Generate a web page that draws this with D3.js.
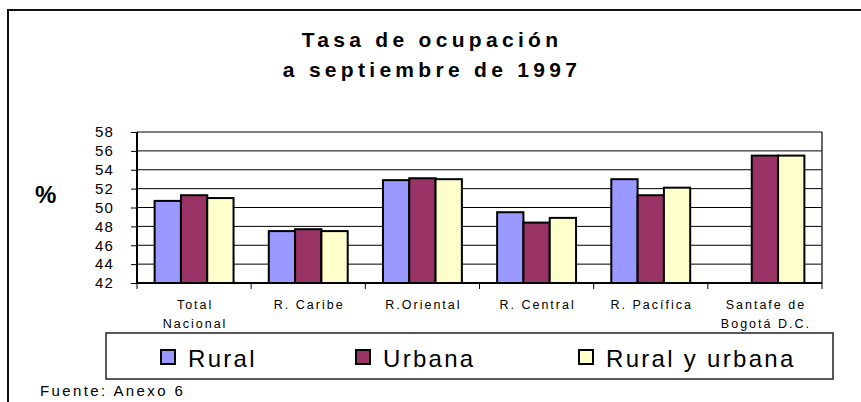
<!DOCTYPE html>
<html>
<head>
<meta charset="utf-8">
<script src="https://cdn.jsdelivr.net/npm/d3@7"></script>
<style>
  html, body { margin: 0; padding: 0; background: #fff; }
  svg { display: block; font-family: "Liberation Sans", Arial, sans-serif; }
</style>
</head>
<body>
<svg id="chart" width="861" height="402"></svg>
<script>
// ---- Data ----
const categories = ["Total Nacional", "R. Caribe", "R.Oriental", "R. Central", "R. Pacífica", "Santafe de Bogotá D.C."];
const categoryLines = [["Total", "Nacional"], ["R. Caribe"], ["R.Oriental"], ["R. Central"], ["R. Pacífica"], ["Santafe de", "Bogotá D.C."]];
const seriesNames = ["Rural", "Urbana", "Rural y urbana"];
const rural = [50.7, 47.5, 52.9, 49.5, 53.0, null];
const urbana = [51.3, 47.7, 53.1, 48.4, 51.3, 55.5];
const ruralUrbana = [51.0, 47.5, 53.0, 48.9, 52.1, 55.5];
const seriesColors = ["#9999FF", "#993366", "#FFFFCC"];
const yTicks = [42, 44, 46, 48, 50, 52, 54, 56, 58];
const titleLines = ["Tasa de ocupación", "a septiembre de 1997"];
const yLabel = "%";
const source = "Fuente: Anexo 6";

const seriesValues = [rural, urbana, ruralUrbana];

// ---- Layout ----
const svg = d3.select("#chart");
const plot = { left: 137, right: 822, top: 132, bottom: 283 };

// outer frame
svg.append("path")
  .attr("d", "M8,402 V10 H870")
  .attr("fill", "none").attr("stroke", "#111").attr("stroke-width", 2);

// title
svg.append("g").selectAll("text").data(titleLines).join("text")
  .attr("x", 432).attr("y", (d, i) => 47 + i * 30)
  .attr("text-anchor", "middle")
  .attr("font-size", 21).attr("font-weight", "bold")
  .attr("letter-spacing", 4.3)
  .attr("fill", "#000")
  .text(d => d);

// scales
const x0 = d3.scaleBand().domain(categories).range([plot.left, plot.right]).paddingInner(0).paddingOuter(0);
const x1 = d3.scaleBand().domain(seriesNames).range([0, x0.bandwidth()]).paddingInner(0).paddingOuter(0.67);
const y = d3.scaleLinear().domain([42, 58]).range([plot.bottom, plot.top]);

// gridlines
svg.append("g").selectAll("line").data(yTicks).join("line")
  .attr("x1", plot.left).attr("x2", plot.right)
  .attr("y1", d => y(d)).attr("y2", d => y(d))
  .attr("stroke", "#000").attr("stroke-width", 1);

// plot border right
svg.append("line")
  .attr("x1", plot.right).attr("x2", plot.right)
  .attr("y1", plot.top).attr("y2", plot.bottom)
  .attr("stroke", "#333").attr("stroke-width", 1.5);

// bars
const barData = [];
categories.forEach((c, ci) => {
  seriesNames.forEach((s, si) => {
    const v = seriesValues[si][ci];
    if (v != null) barData.push({ c, s, v, color: seriesColors[si] });
  });
});
svg.append("g").selectAll("rect").data(barData).join("rect")
  .attr("x", d => x0(d.c) + x1(d.s))
  .attr("y", d => y(d.v))
  .attr("width", x1.bandwidth())
  .attr("height", d => y(42) - y(d.v))
  .attr("fill", d => d.color)
  .attr("stroke", "#000").attr("stroke-width", 2);

// y axis
const yAxis = svg.append("g")
  .attr("transform", `translate(${plot.left},0)`)
  .call(d3.axisLeft(y).tickValues(yTicks).tickSize(6).tickPadding(17).tickFormat(d3.format("d")));
yAxis.select(".domain").attr("stroke", "#000").attr("stroke-width", 2).attr("d", `M0,${plot.top}V${plot.bottom}`);
yAxis.selectAll(".tick line").attr("stroke", "#000");
yAxis.selectAll(".tick text")
  .attr("font-size", 15).attr("letter-spacing", 1.2)
  .attr("font-family", "Liberation Sans, Arial, sans-serif").attr("fill", "#000");

// x axis
const xAxis = svg.append("g")
  .attr("transform", `translate(0,${plot.bottom})`)
  .call(d3.axisBottom(x0).tickSize(0).tickPadding(0).tickFormat(""));
xAxis.select(".domain").attr("stroke", "#000").attr("stroke-width", 2).attr("d", `M${plot.left},0H${plot.right}`);
// tick marks at category boundaries
const boundaries = categories.map(c => x0(c)).concat([x0(categories[categories.length - 1]) + x0.bandwidth()]);
xAxis.append("g").selectAll("line").data(boundaries).join("line")
  .attr("x1", d => d).attr("x2", d => d).attr("y1", 0).attr("y2", 6)
  .attr("stroke", "#000").attr("stroke-width", 1);
// labels
const lbl = xAxis.append("g").selectAll("text").data(categories).join("text")
  .attr("x", d => x0(d) + x0.bandwidth() / 2 + 1)
  .attr("y", 26)
  .attr("text-anchor", "middle")
  .attr("font-size", 12.5).attr("letter-spacing", 2)
  .attr("fill", "#000");
lbl.each(function (d, i) {
  d3.select(this).selectAll("tspan").data(categoryLines[i]).join("tspan")
    .attr("x", x0(d) + x0.bandwidth() / 2 + 1)
    .attr("dy", (t, j) => j === 0 ? 0 : 19)
    .text(t => t);
});

// y label
svg.append("text")
  .attr("x", 35).attr("y", 203)
  .attr("font-size", 24).attr("font-weight", "bold")
  .attr("fill", "#000")
  .text(yLabel);

// legend
const legend = svg.append("g");
legend.append("rect")
  .attr("x", 106).attr("y", 333).attr("width", 727).attr("height", 46)
  .attr("fill", "#fff").attr("stroke", "#222").attr("stroke-width", 1.5);
const legendX = [160, 355, 578];
const items = legend.selectAll("g.item").data(seriesNames).join("g")
  .attr("class", "item")
  .attr("transform", (d, i) => `translate(${legendX[i]},349)`);
items.append("rect")
  .attr("x", 1).attr("y", 1).attr("width", 14).attr("height", 14)
  .attr("fill", (d, i) => seriesColors[i])
  .attr("stroke", "#000").attr("stroke-width", 2);
items.append("text")
  .attr("x", 28).attr("y", 18)
  .attr("font-size", 24).attr("letter-spacing", 2.3)
  .attr("fill", "#000")
  .text(d => d);

// source
svg.append("text")
  .attr("x", 40).attr("y", 396)
  .attr("font-size", 15).attr("letter-spacing", 2.4)
  .attr("fill", "#000")
  .text(source);
</script>
</body>
</html>
